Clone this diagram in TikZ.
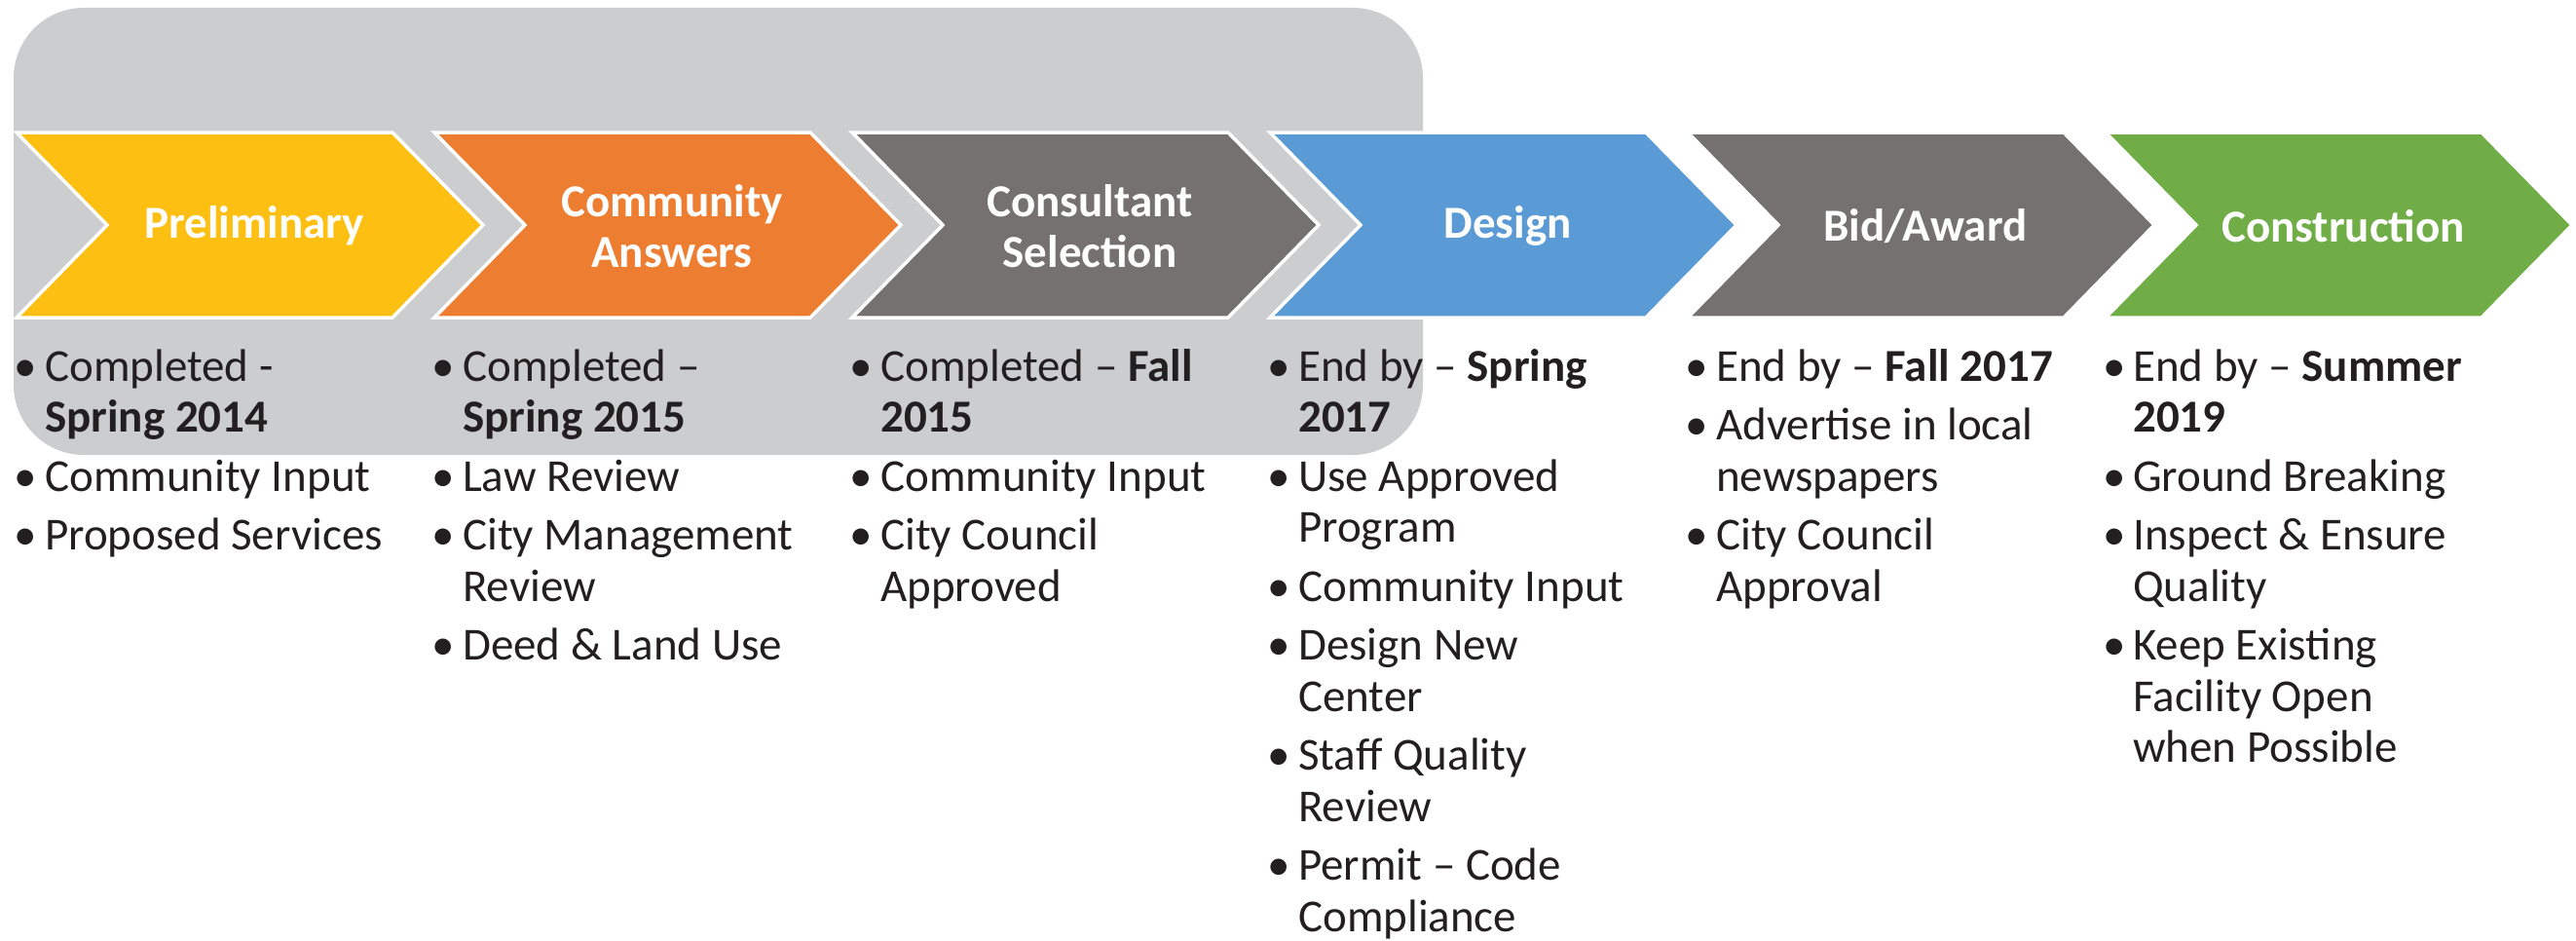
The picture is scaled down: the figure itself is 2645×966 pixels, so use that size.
\documentclass[tikz,border=0pt]{standalone}
\usepackage{fontspec}
\setmainfont{Carlito}
\definecolor{bggray}{HTML}{CCCDCF}
\definecolor{cyellow}{HTML}{FCBF12}
\definecolor{corange}{HTML}{ED7D31}
\definecolor{cgray}{HTML}{767171}
\definecolor{cblue}{HTML}{5B9BD5}
\definecolor{cgreen}{HTML}{70AD47}
\definecolor{ink}{HTML}{231F20}
\begin{document}
\begin{tikzpicture}[x=1pt,y=-1pt,
  chev/.style={draw=white,line width=3.5pt,line join=miter},
  title/.style={text=white,font=\fontsize{47}{52}\selectfont\bfseries,align=center,inner sep=0pt},
  body/.style={text=ink,font=\fontsize{47}{52}\selectfont,inner sep=0pt,anchor=base west},
  bul/.style={text=ink,font=\fontsize{47}{52}\selectfont,inner sep=0pt,anchor=base}]
\useasboundingbox (0,0) rectangle (2645,966);
% background panel
\fill[bggray,rounded corners=72pt] (14,8) rectangle (1461,467);
% chevrons
\newcommand{\chevshape}[2]{\path[chev,fill=#2] (#1,136) -- ++(386,0) -- ++(93,95) -- ++(-93,95) -- ++(-386,0) -- ++(93,-95) -- cycle;}
\chevshape{17}{cyellow}
\chevshape{446}{corange}
\chevshape{875}{cgray}
\chevshape{1304}{cblue}
\chevshape{1733}{cgray}
\chevshape{2162}{cgreen}
\node[title] (t1) at (261,232) {Preliminary};
\node[title] (t2) at (690,232) {Community\\Answers};
\node[title] (t3) at (1119,232) {Consultant\\Selection};
\node[title] (t4) at (1548,232) {Design};
\node[title] (t5) at (1977,232) {Bid/Award};
\node[title] (t6) at (2406,232) {Construction};
% column 1
\node[bul] (b11) at (26,391) {•};
\node[body] (l11) at (46,391) {Completed -};
\node[body] (l12) at (46,443.5) {\textbf{Spring 2014}};
\node[bul] (b12) at (26,504) {•};
\node[body] (l13) at (46,504) {Community Input};
\node[bul] (b13) at (26,564.5) {•};
\node[body] (l14) at (46,564.5) {Proposed Services};
% column 2
\node[bul] (b21) at (455,391) {•};
\node[body] (l21) at (475,391) {Completed –};
\node[body] (l22) at (475,443.5) {\textbf{Spring 2015}};
\node[bul] (b22) at (455,504) {•};
\node[body] (l23) at (475,504) {Law Review};
\node[bul] (b23) at (455,564.5) {•};
\node[body] (l24) at (475,564.5) {City Management};
\node[body] (l25) at (475,617) {Review};
\node[bul] (b24) at (455,677.5) {•};
\node[body] (l26) at (475,677.5) {Deed \& Land Use};
% column 3
\node[bul] (b31) at (884,391) {•};
\node[body] (l31) at (904,391) {Completed – \textbf{Fall}};
\node[body] (l32) at (904,443.5) {\textbf{2015}};
\node[bul] (b32) at (884,504) {•};
\node[body] (l33) at (904,504) {Community Input};
\node[bul] (b33) at (884,564.5) {•};
\node[body] (l34) at (904,564.5) {City Council};
\node[body] (l35) at (904,617) {Approved};
% column 4
\node[bul] (b41) at (1313,391) {•};
\node[body] (l41) at (1333,391) {End by – \textbf{Spring}};
\node[body] (l42) at (1333,443.5) {\textbf{2017}};
\node[bul] (b42) at (1313,504) {•};
\node[body] (l43) at (1333,504) {Use Approved};
\node[body] (l44) at (1333,556.5) {Program};
\node[bul] (b43) at (1313,617) {•};
\node[body] (l45) at (1333,617) {Community Input};
\node[bul] (b44) at (1313,677.5) {•};
\node[body] (l46) at (1333,677.5) {Design New};
\node[body] (l47) at (1333,730) {Center};
\node[bul] (b45) at (1313,790.5) {•};
\node[body] (l48) at (1333,790.5) {Staff Quality};
\node[body] (l49) at (1333,843) {Review};
\node[bul] (b46) at (1313,903.5) {•};
\node[body] (l4a) at (1333,903.5) {Permit – Code};
\node[body] (l4b) at (1333,956) {Compliance};
% column 5
\node[bul] (b51) at (1742,391) {•};
\node[body] (l51) at (1762,391) {End by – \textbf{Fall 2017}};
\node[bul] (b52) at (1742,451.5) {•};
\node[body] (l52) at (1762,451.5) {Advertise in local};
\node[body] (l53) at (1762,504) {newspapers};
\node[bul] (b53) at (1742,564.5) {•};
\node[body] (l54) at (1762,564.5) {City Council};
\node[body] (l55) at (1762,617) {Approval};
% column 6
\node[bul] (b61) at (2171,391) {•};
\node[body] (l61) at (2190,391) {End by – \textbf{Summer}};
\node[body] (l62) at (2190,443.5) {\textbf{2019}};
\node[bul] (b62) at (2171,504) {•};
\node[body] (l63) at (2190,504) {Ground Breaking};
\node[bul] (b63) at (2171,564.5) {•};
\node[body] (l64) at (2190,564.5) {Inspect \& Ensure};
\node[body] (l65) at (2190,617) {Quality};
\node[bul] (b64) at (2171,677.5) {•};
\node[body] (l66) at (2190,677.5) {Keep Existing};
\node[body] (l67) at (2190,730) {Facility Open};
\node[body] (l68) at (2190,782.5) {when Possible};
\end{tikzpicture}
\end{document}
